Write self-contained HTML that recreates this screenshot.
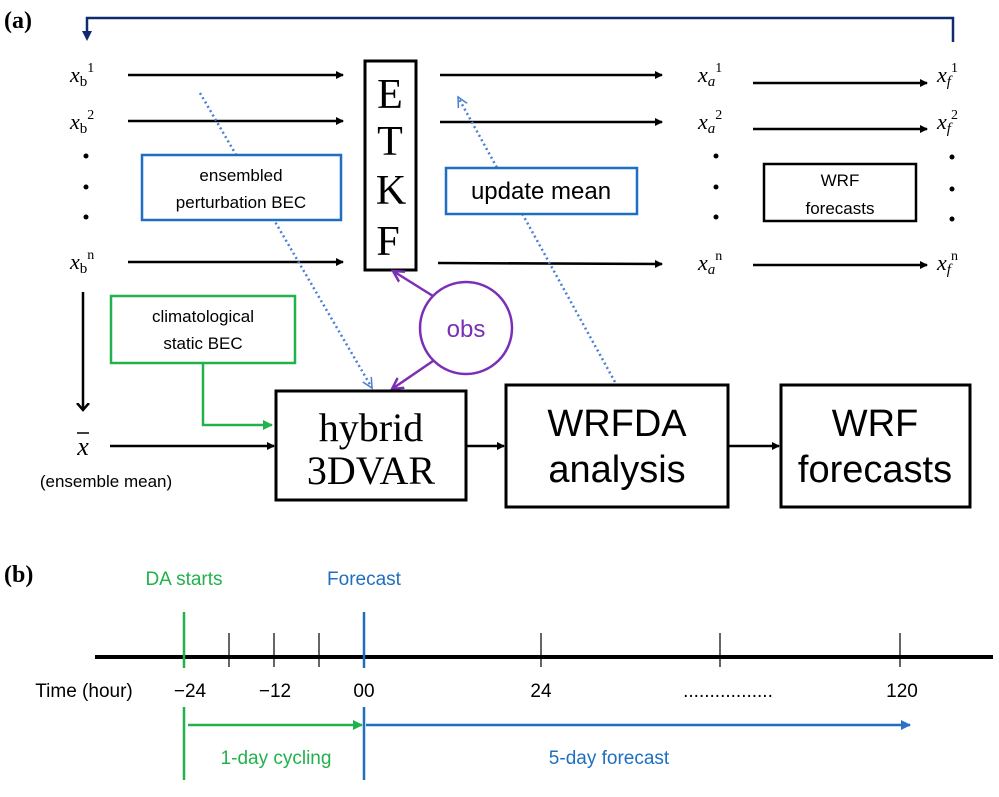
<!DOCTYPE html>
<html><head><meta charset="utf-8"><style>
body{margin:0;background:#fff}
svg text{font-family:"Liberation Sans",sans-serif}
.s{font-family:"Liberation Serif",serif}
</style></head><body>
<svg width="999" height="792" viewBox="0 0 999 792" xmlns="http://www.w3.org/2000/svg">
<defs>
<marker id="ak" markerWidth="8" markerHeight="8" refX="7" refY="4" orient="auto" markerUnits="userSpaceOnUse"><path d="M0,0 L8,4 L0,8z" fill="#000"/></marker>
<marker id="ak2" markerWidth="14" markerHeight="14" refX="7" refY="7" orient="auto" markerUnits="userSpaceOnUse"><path d="M0,1 L7,7 L0,13" fill="none" stroke="#000" stroke-width="2.5"/></marker>
<marker id="an" markerWidth="10" markerHeight="10" refX="5" refY="5" orient="auto" markerUnits="userSpaceOnUse"><path d="M0,0 L10,5 L0,10z" fill="#102a6e"/></marker>
<marker id="ag" markerWidth="10" markerHeight="10" refX="9" refY="5" orient="auto" markerUnits="userSpaceOnUse"><path d="M0,0 L10,5 L0,10z" fill="#22b14c"/></marker>
<marker id="ab" markerWidth="10" markerHeight="10" refX="9" refY="5" orient="auto" markerUnits="userSpaceOnUse"><path d="M0,0 L10,5 L0,10z" fill="#2f6fc4"/></marker>
<marker id="ad" markerWidth="12" markerHeight="12" refX="10" refY="6" orient="auto" markerUnits="userSpaceOnUse"><path d="M0,1 L10,6 L0,11" fill="none" stroke="#4a7fd4" stroke-width="1.5"/></marker>
<marker id="ap" markerWidth="14" markerHeight="14" refX="11" refY="7" orient="auto" markerUnits="userSpaceOnUse"><path d="M0,1 L11,7 L0,13" fill="none" stroke="#7b2fb5" stroke-width="2.5"/></marker>
</defs>
<text x="4" y="28" class="s" font-size="24" font-weight="bold">(a)</text>
<polyline points="953,42 953,18 87,18 87,36" fill="none" stroke="#102a6e" stroke-width="2.5" marker-end="url(#an)"/>
<g class="s" font-size="22" font-style="italic">
<text x="70" y="82" class="s">x<tspan font-size="15" font-style="normal" dy="4">b</tspan><tspan font-size="14" font-style="normal" dy="-14">1</tspan></text>
<text x="70" y="129" class="s">x<tspan font-size="15" font-style="normal" dy="4">b</tspan><tspan font-size="14" font-style="normal" dy="-14">2</tspan></text>
<text x="70" y="269" class="s">x<tspan font-size="15" font-style="normal" dy="4">b</tspan><tspan font-size="14" font-style="normal" dy="-14">n</tspan></text>
<text x="698" y="82" class="s">x<tspan font-size="15" dy="4">a</tspan><tspan font-size="14" font-style="normal" dy="-14">1</tspan></text>
<text x="698" y="129" class="s">x<tspan font-size="15" dy="4">a</tspan><tspan font-size="14" font-style="normal" dy="-14">2</tspan></text>
<text x="698" y="270" class="s">x<tspan font-size="15" dy="4">a</tspan><tspan font-size="14" font-style="normal" dy="-14">n</tspan></text>
<text x="937" y="82" class="s">x<tspan font-size="15" dy="4">f</tspan><tspan font-size="14" font-style="normal" dy="-14">1</tspan></text>
<text x="937" y="129" class="s">x<tspan font-size="15" dy="4">f</tspan><tspan font-size="14" font-style="normal" dy="-14">2</tspan></text>
<text x="937" y="270" class="s">x<tspan font-size="15" dy="4">f</tspan><tspan font-size="14" font-style="normal" dy="-14">n</tspan></text>
</g>
<g fill="#000"><circle cx="86" cy="156" r="2.5"/><circle cx="86" cy="187" r="2.5"/><circle cx="86" cy="217" r="2.5"/>
<circle cx="716" cy="156" r="2.5"/><circle cx="716" cy="187" r="2.5"/><circle cx="716" cy="217" r="2.5"/>
<circle cx="952" cy="157" r="2.5"/><circle cx="952" cy="189" r="2.5"/><circle cx="952" cy="219" r="2.5"/></g>
<g stroke="#000" stroke-width="2.5" marker-end="url(#ak)">
<line x1="128" y1="75" x2="343" y2="75"/><line x1="128" y1="121" x2="343" y2="121"/><line x1="128" y1="262" x2="343" y2="262"/>
<line x1="440" y1="75" x2="662" y2="75"/><line x1="440" y1="122" x2="662" y2="122"/><line x1="438" y1="263" x2="662" y2="264"/>
<line x1="753" y1="83" x2="927" y2="83"/><line x1="753" y1="129" x2="927" y2="129"/><line x1="753" y1="265" x2="927" y2="265"/>
</g>
<rect x="365" y="61" width="51" height="209" fill="#fff" stroke="#000" stroke-width="3"/>
<g class="s" font-size="42" text-anchor="middle"><text x="390" y="108" class="s">E</text><text x="390" y="155" class="s">T</text><text x="391" y="204" class="s">K</text><text x="388" y="255" class="s">F</text></g>
<line x1="200" y1="93" x2="372" y2="388" stroke="#4a7fd4" stroke-width="2.5" stroke-dasharray="2,3" marker-end="url(#ad)"/>
<line x1="615" y1="382" x2="458" y2="97" stroke="#4a7fd4" stroke-width="2.5" stroke-dasharray="2,3" marker-end="url(#ad)"/>
<rect x="142" y="155" width="199" height="65" fill="#fff" stroke="#1f6fc0" stroke-width="2.5"/>
<text x="241" y="181" font-size="17" text-anchor="middle">ensembled</text>
<text x="241" y="208" font-size="17" text-anchor="middle">perturbation BEC</text>
<rect x="446" y="168" width="191" height="46" fill="#fff" stroke="#1f6fc0" stroke-width="2.5"/>
<text x="541" y="199" font-size="24" text-anchor="middle">update mean</text>
<rect x="764" y="164" width="152" height="57" fill="#fff" stroke="#000" stroke-width="2.5"/>
<text x="840" y="186" font-size="17" text-anchor="middle">WRF</text>
<text x="840" y="214" font-size="17" text-anchor="middle">forecasts</text>
<circle cx="466" cy="328" r="46" fill="#fff" stroke="#7b2fb5" stroke-width="2.5"/>
<text x="466" y="337" font-size="24" fill="#7b2fb5" text-anchor="middle">obs</text>
<line x1="433" y1="296" x2="393" y2="271" stroke="#7b2fb5" stroke-width="2.5" marker-end="url(#ap)"/>
<line x1="433" y1="361" x2="392" y2="389" stroke="#7b2fb5" stroke-width="2.5" marker-end="url(#ap)"/>
<line x1="83" y1="292" x2="83" y2="410" stroke="#000" stroke-width="2.5" marker-end="url(#ak2)"/>
<rect x="111" y="296" width="184" height="67" fill="#fff" stroke="#22b14c" stroke-width="2.5"/>
<text x="203" y="322" font-size="17" text-anchor="middle">climatological</text>
<text x="203" y="349" font-size="17" text-anchor="middle">static BEC</text>
<polyline points="203,363 203,425 272,425" fill="none" stroke="#22b14c" stroke-width="2.5" marker-end="url(#ag)"/>
<text x="83" y="455" class="s" font-size="26" font-style="italic" text-anchor="middle">x</text>
<line x1="77" y1="433" x2="89" y2="433" stroke="#000" stroke-width="1.5"/>
<text x="106" y="487" font-size="17" text-anchor="middle">(ensemble mean)</text>
<line x1="110" y1="446" x2="274" y2="446" stroke="#000" stroke-width="2.5" marker-end="url(#ak)"/>
<rect x="276" y="391" width="190" height="109" fill="#fff" stroke="#000" stroke-width="3"/>
<text x="371" y="441" class="s" font-size="40" text-anchor="middle">hybrid</text>
<text x="371" y="484" class="s" font-size="40" text-anchor="middle">3DVAR</text>
<line x1="466" y1="446" x2="504" y2="446" stroke="#000" stroke-width="2.5" marker-end="url(#ak)"/>
<rect x="506" y="385" width="222" height="122" fill="#fff" stroke="#000" stroke-width="3"/>
<text x="617" y="436" font-size="38" text-anchor="middle">WRFDA</text>
<text x="617" y="482" font-size="38" text-anchor="middle">analysis</text>
<line x1="728" y1="446" x2="779" y2="446" stroke="#000" stroke-width="2.5" marker-end="url(#ak)"/>
<rect x="781" y="385" width="189" height="122" fill="#fff" stroke="#000" stroke-width="3"/>
<text x="875" y="436" font-size="38" text-anchor="middle">WRF</text>
<text x="875" y="482" font-size="38" text-anchor="middle">forecasts</text>
<text x="4" y="582" class="s" font-size="24" font-weight="bold">(b)</text>
<text x="184" y="585" font-size="19" fill="#22b14c" text-anchor="middle">DA starts</text>
<text x="364" y="585" font-size="19" fill="#1f6fc0" text-anchor="middle">Forecast</text>
<line x1="95" y1="657" x2="993" y2="657" stroke="#000" stroke-width="4"/>
<g stroke="#000" stroke-width="1.2"><line x1="229" y1="633" x2="229" y2="667"/><line x1="274" y1="633" x2="274" y2="667"/><line x1="319" y1="633" x2="319" y2="667"/><line x1="541" y1="633" x2="541" y2="667"/><line x1="720" y1="633" x2="720" y2="667"/><line x1="900" y1="633" x2="900" y2="667"/></g>
<line x1="184" y1="612" x2="184" y2="668" stroke="#22b14c" stroke-width="2.5"/>
<line x1="364" y1="612" x2="364" y2="668" stroke="#1f6fc0" stroke-width="2.5"/>
<g font-size="19" text-anchor="middle"><text x="84" y="697">Time (hour)</text><text x="190" y="697">−24</text><text x="275" y="697">−12</text><text x="364" y="697">00</text><text x="541" y="697">24</text><text x="728" y="697">.................</text><text x="902" y="697">120</text></g>
<line x1="184" y1="707" x2="184" y2="780" stroke="#22b14c" stroke-width="2.5"/>
<line x1="364" y1="707" x2="364" y2="780" stroke="#1f6fc0" stroke-width="2.5"/>
<line x1="188" y1="725" x2="362" y2="725" stroke="#22b14c" stroke-width="2.5" marker-end="url(#ag)"/>
<line x1="366" y1="725" x2="910" y2="725" stroke="#1f6fc0" stroke-width="2.5" marker-end="url(#ab)"/>
<text x="276" y="764" font-size="19" fill="#22b14c" text-anchor="middle">1-day cycling</text>
<text x="609" y="764" font-size="19" fill="#1f6fc0" text-anchor="middle">5-day forecast</text>
</svg>
</body></html>
